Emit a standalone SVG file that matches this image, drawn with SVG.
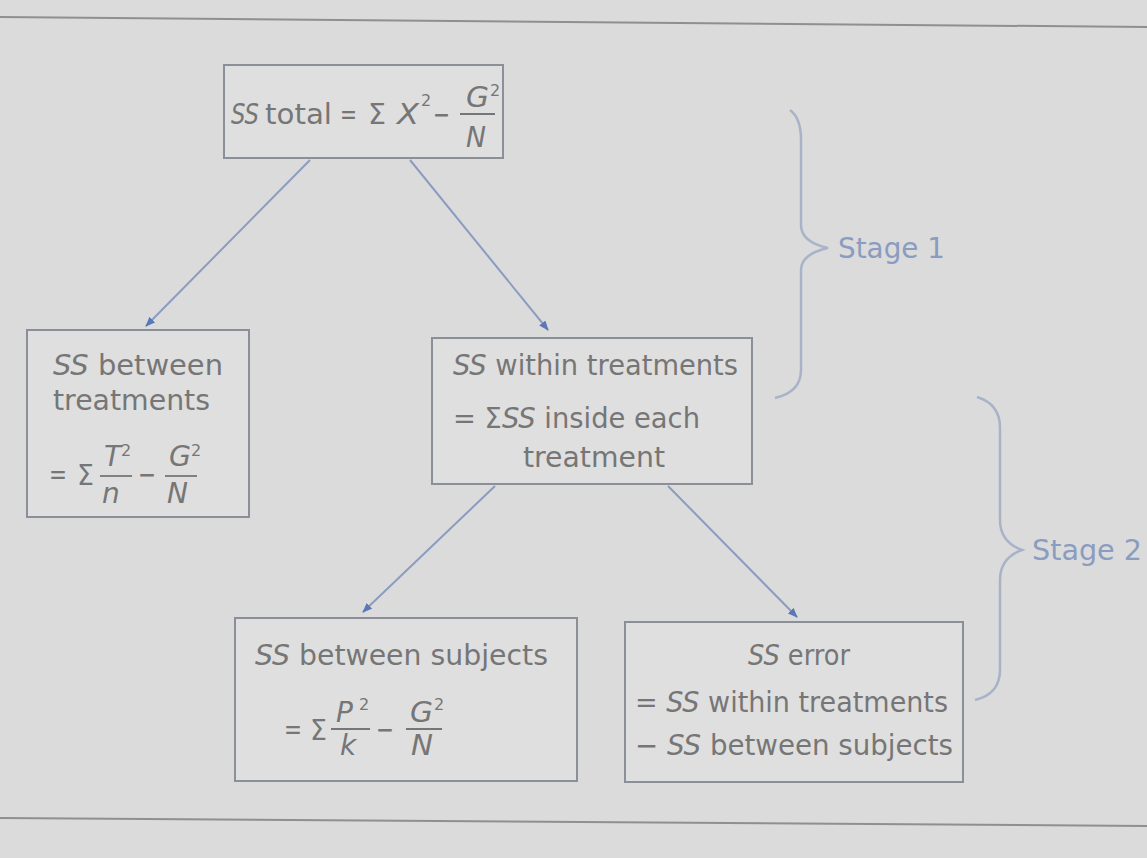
<svg xmlns="http://www.w3.org/2000/svg" width="1147" height="858" viewBox="0 0 1147 858">
<defs>
<style>
.bg{fill:#dbdbdb}
.rule{stroke:#8f8f8f;stroke-width:2;fill:none}
.box{fill:#dfdfdf;stroke:#8a8f98;stroke-width:2}
.t{font-family:"DejaVu Sans","Liberation Sans",sans-serif;font-size:28px;fill:#767676}
.i{font-style:italic}
.sm{font-size:16px}
.conn{stroke:#8a9cc0;stroke-width:2;fill:none;marker-end:url(#ah)}
.brace{stroke:#a8b3c8;stroke-width:2.5;fill:none}
.stage{font-family:"DejaVu Sans","Liberation Sans",sans-serif;font-size:28px;fill:#8a9cc0}
.bar{stroke:#767676;stroke-width:1.8}
</style>
<marker id="ah" markerWidth="10" markerHeight="8" refX="9" refY="4" orient="auto" markerUnits="userSpaceOnUse">
<path d="M0,0 L10,4 L0,8 Z" fill="#5a78b8"/>
</marker>
</defs>
<rect class="bg" x="0" y="0" width="1147" height="858"/>
<line class="rule" x1="0" y1="17" x2="1147" y2="27"/>
<line class="rule" x1="0" y1="818" x2="1147" y2="826"/>

<g id="connectors">
<line class="conn" x1="310" y1="160" x2="146" y2="326"/>
<line class="conn" x1="410" y1="160" x2="548" y2="330"/>
<line class="conn" x1="495" y1="486" x2="363" y2="612"/>
<line class="conn" x1="668" y1="486" x2="797" y2="617"/>
</g>

<g id="n-total">
<rect class="box" x="224" y="65" width="279" height="93"/>
<text class="t i" x="231" y="124" textLength="28" lengthAdjust="spacingAndGlyphs">SS</text>
<text class="t" x="265" y="124" textLength="67" lengthAdjust="spacingAndGlyphs">total</text>
<text class="t" x="340" y="124" textLength="17" lengthAdjust="spacingAndGlyphs">=</text>
<text class="t" x="368" y="124" textLength="18" lengthAdjust="spacingAndGlyphs">Σ</text>
<text class="t i" x="397" y="124" textLength="22" lengthAdjust="spacingAndGlyphs">X</text>
<text class="t sm" x="421" y="106" font-size="14">2</text>
<text class="t" x="433" y="124" textLength="17" lengthAdjust="spacingAndGlyphs">−</text>
<text class="t i" x="466" y="107" textLength="23" lengthAdjust="spacingAndGlyphs">G</text>
<text class="t sm" x="490" y="96">2</text>
<line class="bar" x1="460" y1="114" x2="495" y2="114"/>
<text class="t i" x="466" y="147" textLength="20" lengthAdjust="spacingAndGlyphs">N</text>
</g>

<g id="n-between-treat">
<rect class="box" x="27" y="330" width="222" height="187"/>
<text class="t" x="53" y="375" textLength="170" lengthAdjust="spacingAndGlyphs"><tspan class="i">SS</tspan> between</text>
<text class="t" x="53" y="410" textLength="157" lengthAdjust="spacingAndGlyphs">treatments</text>
<text class="t" x="49" y="484" textLength="18" lengthAdjust="spacingAndGlyphs">=</text>
<text class="t" x="77" y="485" textLength="17" lengthAdjust="spacingAndGlyphs">Σ</text>
<text class="t i" x="104" y="466">T</text>
<text class="t sm" x="121" y="456">2</text>
<line class="bar" x1="100" y1="476" x2="132" y2="476"/>
<text class="t i" x="102" y="503">n</text>
<text class="t" x="138" y="484" textLength="18" lengthAdjust="spacingAndGlyphs">−</text>
<text class="t i" x="169" y="466" textLength="22" lengthAdjust="spacingAndGlyphs">G</text>
<text class="t sm" x="191" y="456">2</text>
<line class="bar" x1="165" y1="476" x2="197" y2="476"/>
<text class="t i" x="167" y="503" textLength="21" lengthAdjust="spacingAndGlyphs">N</text>
</g>

<g id="n-within-treat">
<rect class="box" x="432" y="338" width="320" height="146"/>
<text class="t" x="453" y="375" textLength="285" lengthAdjust="spacingAndGlyphs"><tspan class="i">SS</tspan> within treatments</text>
<text class="t" x="453" y="428" textLength="247" lengthAdjust="spacingAndGlyphs">= Σ<tspan class="i">SS</tspan> inside each</text>
<text class="t" x="523" y="467" textLength="142" lengthAdjust="spacingAndGlyphs">treatment</text>
</g>

<g id="n-between-subj">
<rect class="box" x="235" y="618" width="342" height="163"/>
<text class="t" x="255" y="665" textLength="293" lengthAdjust="spacingAndGlyphs"><tspan class="i">SS</tspan> between subjects</text>
<text class="t" x="284" y="739" textLength="18" lengthAdjust="spacingAndGlyphs">=</text>
<text class="t" x="310" y="740" textLength="17" lengthAdjust="spacingAndGlyphs">Σ</text>
<text class="t i" x="336" y="722">P</text>
<text class="t sm" x="359" y="710">2</text>
<line class="bar" x1="331" y1="729" x2="370" y2="729"/>
<text class="t i" x="340" y="755">k</text>
<text class="t" x="376" y="739" textLength="18" lengthAdjust="spacingAndGlyphs">−</text>
<text class="t i" x="410" y="722" textLength="23" lengthAdjust="spacingAndGlyphs">G</text>
<text class="t sm" x="434" y="710">2</text>
<line class="bar" x1="406" y1="729" x2="442" y2="729"/>
<text class="t i" x="411" y="755" textLength="22" lengthAdjust="spacingAndGlyphs">N</text>
</g>

<g id="n-error">
<rect class="box" x="625" y="622" width="338" height="160"/>
<text class="t" x="748" y="665" textLength="102" lengthAdjust="spacingAndGlyphs"><tspan class="i">SS</tspan> error</text>
<text class="t" x="635" y="712" textLength="313" lengthAdjust="spacingAndGlyphs">= <tspan class="i">SS</tspan> within treatments</text>
<text class="t" x="635" y="755" textLength="318" lengthAdjust="spacingAndGlyphs">− <tspan class="i">SS</tspan> between subjects</text>
</g>

<g id="stage1">
<path class="brace" d="M790,110 Q801,118 801,140 L801,225 Q801,242 828,248 Q801,254 801,270 L801,370 Q801,392 775,398"/>
<text class="stage" x="838" y="258" textLength="107" lengthAdjust="spacingAndGlyphs">Stage 1</text>
</g>
<g id="stage2">
<path class="brace" d="M977,397 Q1000,404 1000,428 L1000,520 Q1000,542 1022,550 Q1000,558 1000,580 L1000,670 Q1000,694 975,700"/>
<text class="stage" x="1032" y="560" textLength="110" lengthAdjust="spacingAndGlyphs">Stage 2</text>
</g>
</svg>
